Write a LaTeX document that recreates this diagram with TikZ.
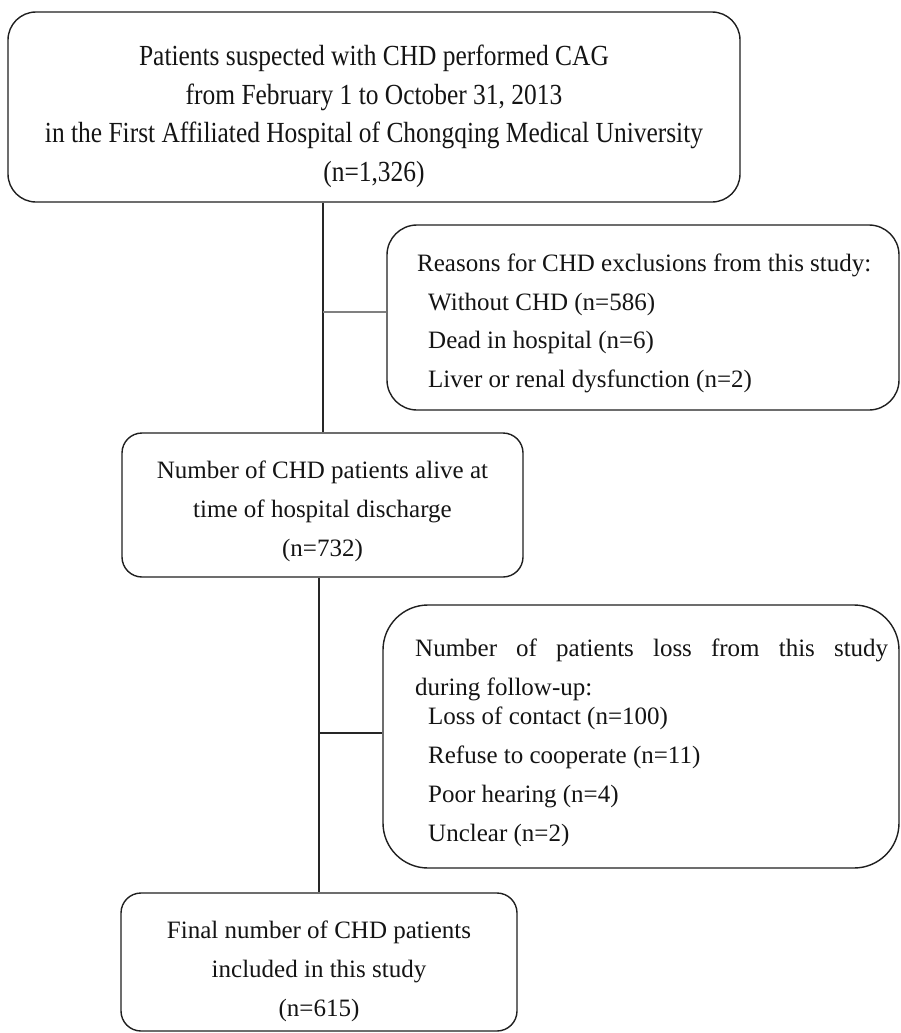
\documentclass[tikz,border=0pt]{standalone}
\usepackage{fontspec}
\setmainfont{Liberation Serif}
\begin{document}
\begin{tikzpicture}[x=1pt,y=-1pt,
  box/.style={draw=black!88, line width=1.4pt, rounded corners=#1, inner sep=0pt},
  box/.default=20pt,
  txt/.style={inner sep=0pt, text=black!92, font=\fontsize{25}{38.7}\selectfont},
  conn/.style={draw=black!85, line width=1.3pt},
  gconn/.style={draw=black!50, line width=1.6pt}]
\useasboundingbox (0,0) rectangle (901,1033);
% boxes
\node[box=28pt, minimum width=732pt, minimum height=190pt] (b1) at (374,107) {};
\node[box=30pt, minimum width=512pt, minimum height=185pt] (r) at (643,317.5) {};
\node[box=20pt, minimum width=401pt, minimum height=144pt] (b2) at (322.5,505) {};
\node[box=45pt, minimum width=516pt, minimum height=263pt] (l) at (641,736.5) {};
\node[box=20pt, minimum width=396pt, minimum height=138pt] (b4) at (319,962) {};
% texts
\node[txt] (b1t) at (374,116) {\scalebox{0.96}[1.1]{\fontsize{26.5}{35}\selectfont\begin{tabular}{@{}c@{}}Patients suspected with CHD performed CAG\\from February 1 to October 31, 2013\\in the First Affiliated Hospital of Chongqing Medical University\\(n=1,326)\end{tabular}}};
\node[txt, align=left, anchor=west] (rt) at (417,323.5) {Reasons for CHD exclusions from this study:\\\hspace*{11pt}Without CHD (n=586)\\\hspace*{11pt}Dead in hospital (n=6)\\\hspace*{11pt}Liver or renal dysfunction (n=2)};
\node[txt, align=center, font=\fontsize{25}{39}\selectfont] (b2t) at (322.5,511) {Number of CHD patients alive at\\time of hospital discharge\\(n=732)};
\node[txt, align=left, anchor=west, font=\fontsize{25}{39}\selectfont] (lt) at (415,743) {\makebox[473pt][s]{Number of patients loss from this study}\\during follow-up:\\[-10pt]\hspace*{13pt}Loss of contact (n=100)\\\hspace*{13pt}Refuse to cooperate (n=11)\\\hspace*{13pt}Poor hearing (n=4)\\\hspace*{13pt}Unclear (n=2)};
\node[txt, align=center, font=\fontsize{25}{39}\selectfont] (b4t) at (319,971) {Final number of CHD patients\\included in this study\\(n=615)};
% connectors
\coordinate (j1) at (323,312);
\coordinate (j2) at (319,733);
\draw[conn] (b1.south -| j1) -- (b2.north -| j1);
\draw[gconn] (j1) -- (r.west |- j1);
\draw[conn] (b2.south -| j2) -- (b4.north -| j2);
\draw[conn] (j2) -- (l.west |- j2);
\end{tikzpicture}
\end{document}
